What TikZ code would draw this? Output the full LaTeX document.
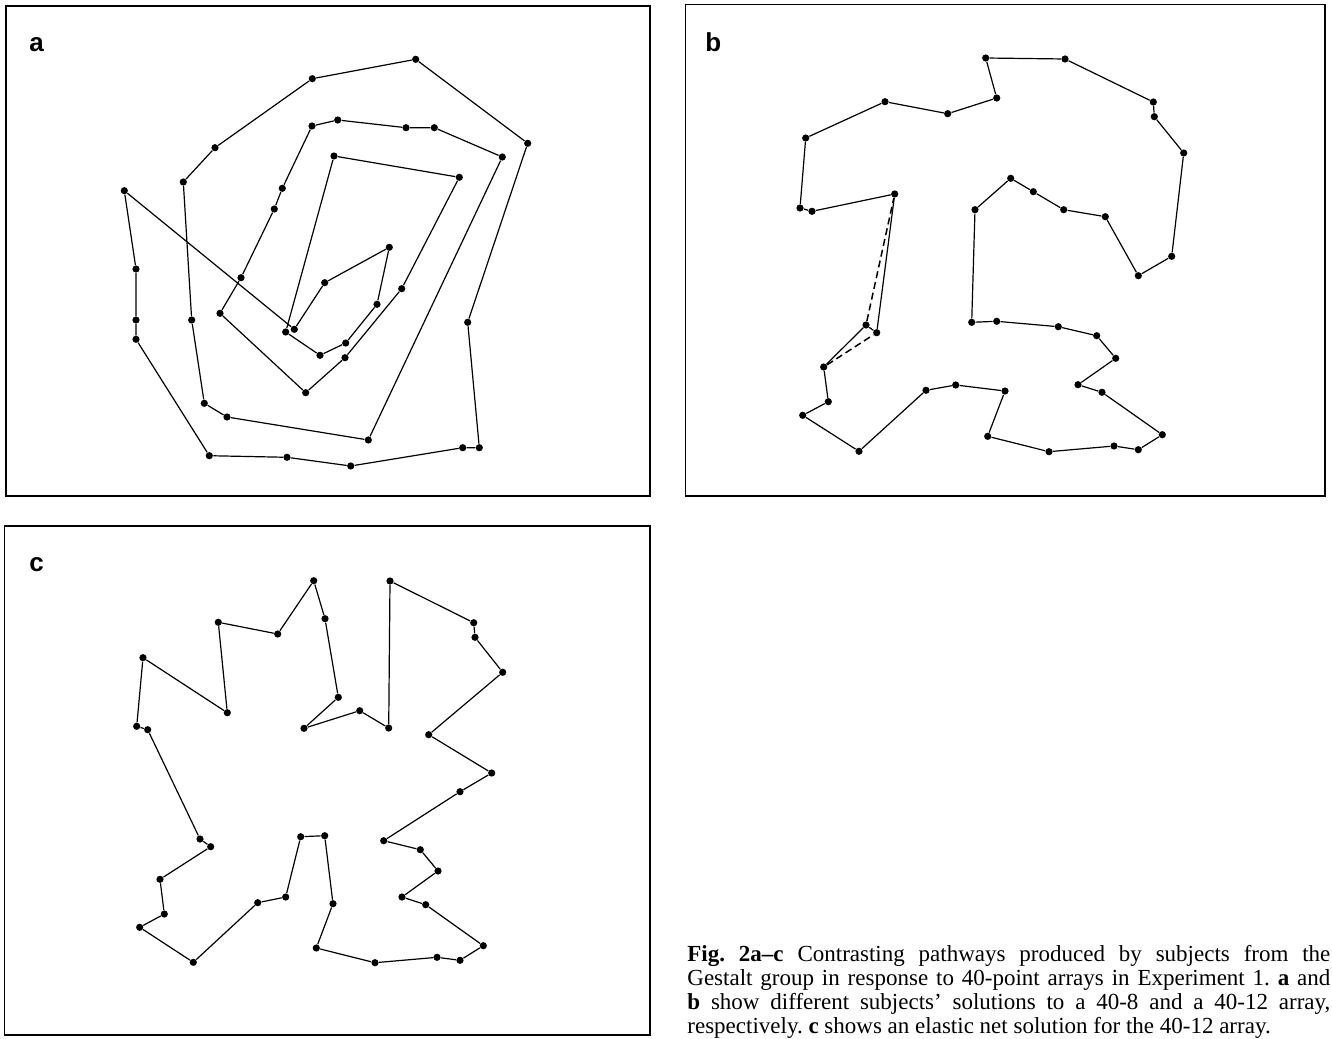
\documentclass[tikz,border=0pt]{standalone}
\usepackage{fontspec}
\setmainfont{Liberation Serif}
\newfontfamily\labelfont{Liberation Sans}
\begin{document}
\frenchspacing
\begin{tikzpicture}[x=0.5pt,y=-0.5pt,
  dot/.style={circle,fill=black,inner sep=0pt,minimum size=3.6pt},
  tour/.style={line width=0.6pt,line join=round},
  panelframe/.style={line width=0.8pt},
  altpath/.style={line width=0.75pt,dash pattern=on 3.5pt off 2pt},
  plabel/.style={font=\labelfont\bfseries\fontsize{13}{15}\selectfont,anchor=base west,inner sep=0pt},
  capline/.style={font=\fontsize{11.5}{12}\selectfont,anchor=base west,inner sep=0pt}]
\clip (0,0) rectangle (1332,1038);
\fill[white] (0,0) rectangle (1332,1038);
% frames
\draw[panelframe] (6,6) rectangle (650,496);
\draw[panelframe] (685.5,4.5) rectangle (1325,496);
\draw[panelframe] (4.5,525.7) rectangle (650,1035);
% labels
\node[plabel] (la) at (29,52) {a};
\node[plabel] (lb) at (705,52) {b};
\node[plabel] (lc) at (29,571.4) {c};
% panel a
\foreach \n/\px/\py in {1/124.3/190.7,2/136/269,3/136/320,4/136/339.3,5/209.3/455.7,6/287/457.3,7/350.7/466,8/462.7/447.7,9/479.3/447.7,10/467.7/322.3,11/527.7/143.3,12/415.7/59.3,13/312.3/78.7,14/215/147.7,15/183.3/182,16/191.7/320,17/204.3/403.3,18/227/417,19/368.3/440,20/502.3/157,21/434.3/127.7,22/406/127.7,23/337.7/120,24/312/126,25/282.3/188.3,26/274.3/209,27/241/277.7,28/220/313.3,29/305.7/392.7,30/345/357.7,31/401.7/288.7,32/459.3/177.3,33/334/156,34/285.7/332,35/320/355.3,36/345.7/343,37/377/304.3,38/389.3/247.3,39/324.7/282.7,40/294.3/329.3}
  \node[dot] (a\n) at (\px,\py) {};
\draw[tour] (a1) -- (a2) -- (a3) -- (a4) -- (a5) -- (a6) -- (a7) -- (a8) -- (a9) -- (a10)
  -- (a11) -- (a12) -- (a13) -- (a14) -- (a15) -- (a16) -- (a17) -- (a18) -- (a19) -- (a20)
  -- (a21) -- (a22) -- (a23) -- (a24) -- (a25) -- (a26) -- (a27) -- (a28) -- (a29) -- (a30)
  -- (a31) -- (a32) -- (a33) -- (a34) -- (a35) -- (a36) -- (a37) -- (a38) -- (a39) -- (a40) -- (a1);
% panel b
\foreach \n/\px/\py in {1/985.7/58,2/1065/59,3/1153.3/102,4/1154.3/116.7,5/1183.7/153,6/1171.7/256.3,7/1138.3/275.7,8/1105.3/216.7,9/1063.7/209.7,10/1033.3/191.7,11/1010.7/178.3,12/975/209.7,13/971.7/322.3,14/996.7/321.3,15/1058.3/326.7,16/1096.7/335.7,17/1115.7/358.3,18/1078/384.7,19/1102/392.3,20/1162.3/434.7,21/1138.3/449.7,22/1114/446,23/1049/451.7,24/987.7/436.3,25/1005/391,26/955.7/385,27/926/390.3,28/859/451.3,29/802.7/415.3,30/828.3/401.7,31/823.7/367,32/866/325,33/876.7/332.7,34/894.7/194,35/812/211.3,36/800/208,37/805.7/138,38/885/101.7,39/947.7/113.7,40/996.7/98}
  \node[dot] (b\n) at (\px,\py) {};
\draw[tour] (b1) -- (b2) -- (b3) -- (b4) -- (b5) -- (b6) -- (b7) -- (b8) -- (b9) -- (b10)
  -- (b11) -- (b12) -- (b13) -- (b14) -- (b15) -- (b16) -- (b17) -- (b18) -- (b19) -- (b20)
  -- (b21) -- (b22) -- (b23) -- (b24) -- (b25) -- (b26) -- (b27) -- (b28) -- (b29) -- (b30)
  -- (b31) -- (b32) -- (b33) -- (b34) -- (b35) -- (b36) -- (b37) -- (b38) -- (b39) -- (b40) -- (b1);
\draw[altpath] (b31) -- (b33);
\draw[altpath] (b32) -- (b34);
% panel c
\foreach \n/\px/\py in {1/313.7/580.7,2/325/618.7,3/338.3/697.3,4/304/728.3,5/359.7/710.7,6/388.7/728,7/390/581,8/473.7/622.7,9/475/637.3,10/502.7/672.3,11/428.7/734.7,12/491.7/773,13/460/791.7,14/383.7/840.7,15/420.3/849.7,16/438/871,17/402/897,18/425.7/904.7,19/483.3/945.7,20/460/960.3,21/437/957.3,22/375/962.7,23/316.3/948,24/333/903.7,25/324.7/835.7,26/300.7/836.7,27/285.7/897,28/257.7/902.7,29/193.3/962.3,30/139.7/927.3,31/164.3/914,32/160/879.3,33/210.7/846.7,34/200/839,35/147.7/729.7,36/136.7/726.3,37/143/657.7,38/227.3/712.7,39/218.3/622.3,40/277.7/634}
  \node[dot] (c\n) at (\px,\py) {};
\draw[tour] (c1) -- (c2) -- (c3) -- (c4) -- (c5) -- (c6) -- (c7) -- (c8) -- (c9) -- (c10)
  -- (c11) -- (c12) -- (c13) -- (c14) -- (c15) -- (c16) -- (c17) -- (c18) -- (c19) -- (c20)
  -- (c21) -- (c22) -- (c23) -- (c24) -- (c25) -- (c26) -- (c27) -- (c28) -- (c29) -- (c30)
  -- (c31) -- (c32) -- (c33) -- (c34) -- (c35) -- (c36) -- (c37) -- (c38) -- (c39) -- (c40) -- (c1);
% caption
\node[capline] (cap1) at (687,961) {\makebox[321.5pt][s]{\textbf{Fig. 2a–c} Contrasting pathways produced by subjects from the}};
\node[capline] (cap2) at (687,985) {\makebox[321.5pt][s]{Gestalt group in response to 40-point arrays in Experiment 1. \textbf{a} and}};
\node[capline] (cap3) at (687,1009) {\makebox[321.5pt][s]{\textbf{b} show different subjects’ solutions to a 40-8 and a 40-12 array,}};
\node[capline] (cap4) at (687,1033) {respectively. \textbf{c} shows an elastic net solution for the 40-12 array.};
\end{tikzpicture}
\end{document}
